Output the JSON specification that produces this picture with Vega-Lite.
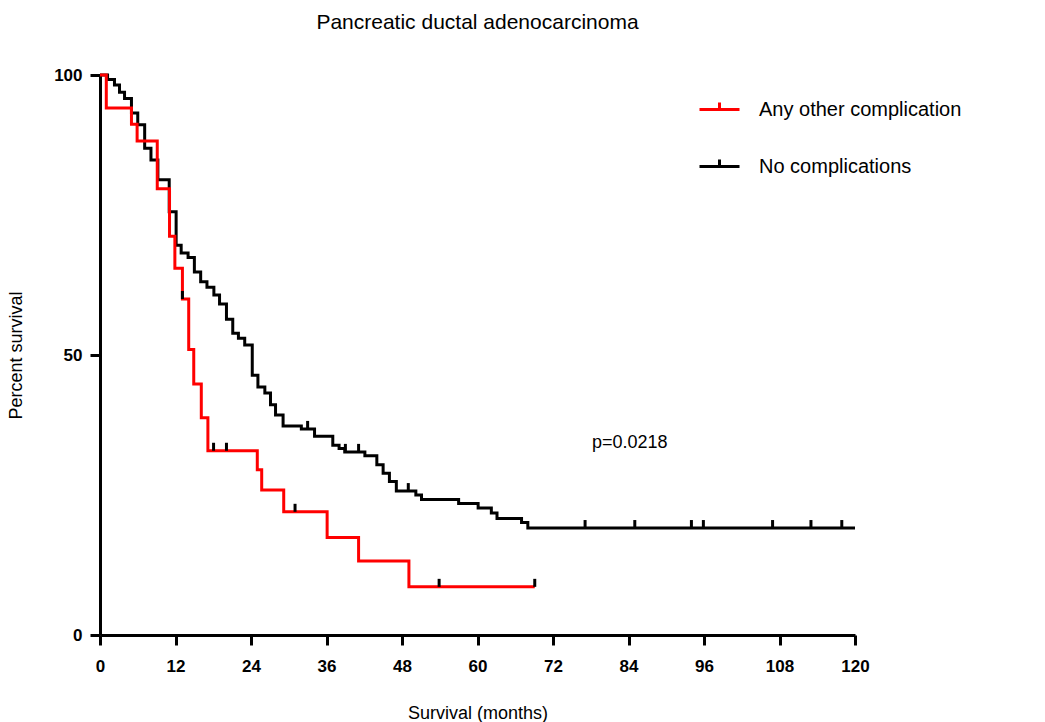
{
  "$schema": "https://vega.github.io/schema/vega-lite/v6.json",
  "width": 755,
  "height": 560,
  "autosize": {"type": "none"},
  "padding": {"left": 100, "top": 75, "right": 190, "bottom": 87},
  "background": "white",
  "title": {"text": "Pancreatic ductal adenocarcinoma", "fontSize": 21, "font": "Liberation Sans", "fontWeight": "normal", "offset": 33, "anchor": "middle", "color": "black"},
  "config": {
    "view": {"stroke": null},
    "axis": {"grid": false, "domainColor": "black", "domainWidth": 3, "tickColor": "black", "tickWidth": 3, "tickSize": 10, "labelFont": "Liberation Sans", "labelFontWeight": "bold", "labelFontSize": 17, "labelColor": "black", "titleFont": "Liberation Sans", "titleFontWeight": "normal", "titleFontSize": 18, "titleColor": "black"}
  },
  "datasets": {
    "curves": [
      {"group": "No complications", "month": 0, "pct": 100},
      {"group": "No complications", "month": 1.2, "pct": 99.2},
      {"group": "No complications", "month": 2.3, "pct": 98.2},
      {"group": "No complications", "month": 3.1, "pct": 96.9},
      {"group": "No complications", "month": 3.9, "pct": 95.8},
      {"group": "No complications", "month": 5.0, "pct": 93.2},
      {"group": "No complications", "month": 6.0, "pct": 91.1},
      {"group": "No complications", "month": 7.1, "pct": 86.9},
      {"group": "No complications", "month": 8.1, "pct": 84.8},
      {"group": "No complications", "month": 9.2, "pct": 81.3},
      {"group": "No complications", "month": 11.0, "pct": 75.6},
      {"group": "No complications", "month": 12.1, "pct": 69.6},
      {"group": "No complications", "month": 12.9, "pct": 68.2},
      {"group": "No complications", "month": 14.0, "pct": 67.4},
      {"group": "No complications", "month": 15.0, "pct": 64.8},
      {"group": "No complications", "month": 16.0, "pct": 63.1},
      {"group": "No complications", "month": 17.0, "pct": 62.1},
      {"group": "No complications", "month": 18.1, "pct": 60.7},
      {"group": "No complications", "month": 19.0, "pct": 59.1},
      {"group": "No complications", "month": 20.1, "pct": 56.4},
      {"group": "No complications", "month": 21.1, "pct": 53.9},
      {"group": "No complications", "month": 22.0, "pct": 53.0},
      {"group": "No complications", "month": 23.0, "pct": 51.8},
      {"group": "No complications", "month": 24.2, "pct": 46.4},
      {"group": "No complications", "month": 25.1, "pct": 44.3},
      {"group": "No complications", "month": 26.2, "pct": 43.2},
      {"group": "No complications", "month": 27.1, "pct": 41.1},
      {"group": "No complications", "month": 27.9, "pct": 39.3},
      {"group": "No complications", "month": 29.1, "pct": 37.3},
      {"group": "No complications", "month": 32.0, "pct": 36.8},
      {"group": "No complications", "month": 34.1, "pct": 35.5},
      {"group": "No complications", "month": 37.0, "pct": 33.9},
      {"group": "No complications", "month": 38.0, "pct": 33.3},
      {"group": "No complications", "month": 38.9, "pct": 32.7},
      {"group": "No complications", "month": 42.1, "pct": 32.0},
      {"group": "No complications", "month": 44.0, "pct": 30.4},
      {"group": "No complications", "month": 45.0, "pct": 28.9},
      {"group": "No complications", "month": 46.0, "pct": 27.4},
      {"group": "No complications", "month": 47.1, "pct": 25.7},
      {"group": "No complications", "month": 50.2, "pct": 25.0},
      {"group": "No complications", "month": 51.1, "pct": 24.2},
      {"group": "No complications", "month": 57.0, "pct": 23.5},
      {"group": "No complications", "month": 60.1, "pct": 22.7},
      {"group": "No complications", "month": 62.2, "pct": 21.8},
      {"group": "No complications", "month": 63.1, "pct": 20.8},
      {"group": "No complications", "month": 67.0, "pct": 20.1},
      {"group": "No complications", "month": 68.0, "pct": 19.1},
      {"group": "No complications", "month": 120, "pct": 19.1},
      {"group": "Any other complication", "month": 0, "pct": 100},
      {"group": "Any other complication", "month": 1.0, "pct": 94.1},
      {"group": "Any other complication", "month": 5.0, "pct": 91.2},
      {"group": "Any other complication", "month": 5.9, "pct": 88.2},
      {"group": "Any other complication", "month": 9.1, "pct": 79.7},
      {"group": "Any other complication", "month": 11.05, "pct": 71.2},
      {"group": "Any other complication", "month": 11.9, "pct": 65.5},
      {"group": "Any other complication", "month": 13.1, "pct": 60.0},
      {"group": "Any other complication", "month": 14.1, "pct": 51.0},
      {"group": "Any other complication", "month": 14.9, "pct": 44.8},
      {"group": "Any other complication", "month": 16.1, "pct": 38.8},
      {"group": "Any other complication", "month": 17.15, "pct": 32.9},
      {"group": "Any other complication", "month": 25.0, "pct": 29.5},
      {"group": "Any other complication", "month": 25.7, "pct": 25.9},
      {"group": "Any other complication", "month": 29.2, "pct": 22.0},
      {"group": "Any other complication", "month": 36.1, "pct": 17.4},
      {"group": "Any other complication", "month": 41.1, "pct": 13.2},
      {"group": "Any other complication", "month": 49.1, "pct": 8.6},
      {"group": "Any other complication", "month": 69.1, "pct": 8.6}
    ],
    "censors": [
      {"group": "Any other complication", "month": 13.1, "pct": 60.0},
      {"group": "Any other complication", "month": 18.05, "pct": 32.9},
      {"group": "Any other complication", "month": 20.1, "pct": 32.9},
      {"group": "Any other complication", "month": 31.0, "pct": 22.0},
      {"group": "Any other complication", "month": 53.9, "pct": 8.6},
      {"group": "Any other complication", "month": 69.1, "pct": 8.6},
      {"group": "No complications", "month": 33.0, "pct": 36.8},
      {"group": "No complications", "month": 39.0, "pct": 32.7},
      {"group": "No complications", "month": 41.1, "pct": 32.7},
      {"group": "No complications", "month": 49.0, "pct": 25.7},
      {"group": "No complications", "month": 77.1, "pct": 19.1},
      {"group": "No complications", "month": 85.0, "pct": 19.1},
      {"group": "No complications", "month": 94.0, "pct": 19.1},
      {"group": "No complications", "month": 95.9, "pct": 19.1},
      {"group": "No complications", "month": 106.9, "pct": 19.1},
      {"group": "No complications", "month": 113.0, "pct": 19.1},
      {"group": "No complications", "month": 117.9, "pct": 19.1}
    ],
    "notes": [
      {"month": 84.2, "pct": 34.3, "label": "p=0.0218"}
    ]
  },
  "encoding": {
    "x": {"field": "month", "type": "quantitative", "scale": {"domain": [0, 120], "nice": false, "zero": false},
      "axis": {"values": [0, 12, 24, 36, 48, 60, 72, 84, 96, 108, 120], "title": "Survival (months)", "labelPadding": 13, "titlePadding": 30, "labelFlush": false}},
    "y": {"field": "pct", "type": "quantitative", "scale": {"domain": [0, 100], "nice": false},
      "axis": {"values": [0, 50, 100], "title": "Percent survival", "labelPadding": 8, "titlePadding": 28}}
  },
  "layer": [
    {
      "data": {"name": "curves"},
      "transform": [{"filter": "datum.group === 'No complications'"}],
      "mark": {"type": "line", "interpolate": "step-after", "strokeWidth": 3},
      "encoding": {
        "color": {"field": "group", "type": "nominal",
          "scale": {"domain": ["Any other complication", "No complications"], "range": ["#ff0000", "#000000"]},
          "legend": {"orient": "none", "legendX": 598, "legendY": 13, "title": null, "symbolType": "M-1,0H1M0,0V-0.35", "symbolSize": 1600, "symbolStrokeWidth": 3, "labelFontSize": 20, "labelFont": "Liberation Sans", "labelOffset": 18, "labelLimit": 0, "rowPadding": 25, "labelColor": "black"}}
      }
    },
    {
      "data": {"name": "curves"},
      "transform": [{"filter": "datum.group === 'Any other complication'"}],
      "mark": {"type": "line", "interpolate": "step-after", "strokeWidth": 3},
      "encoding": {
        "color": {"field": "group", "type": "nominal"}
      }
    },
    {
      "data": {"name": "censors"},
      "mark": {"type": "tick", "orient": "vertical", "size": 8, "thickness": 3, "yOffset": -4, "color": "black", "opacity": 1},
      "encoding": {}
    },
    {
      "data": {"name": "notes"},
      "mark": {"type": "text", "fontSize": 18, "font": "Liberation Sans", "color": "black"},
      "encoding": {"text": {"field": "label"}}
    }
  ]
}
